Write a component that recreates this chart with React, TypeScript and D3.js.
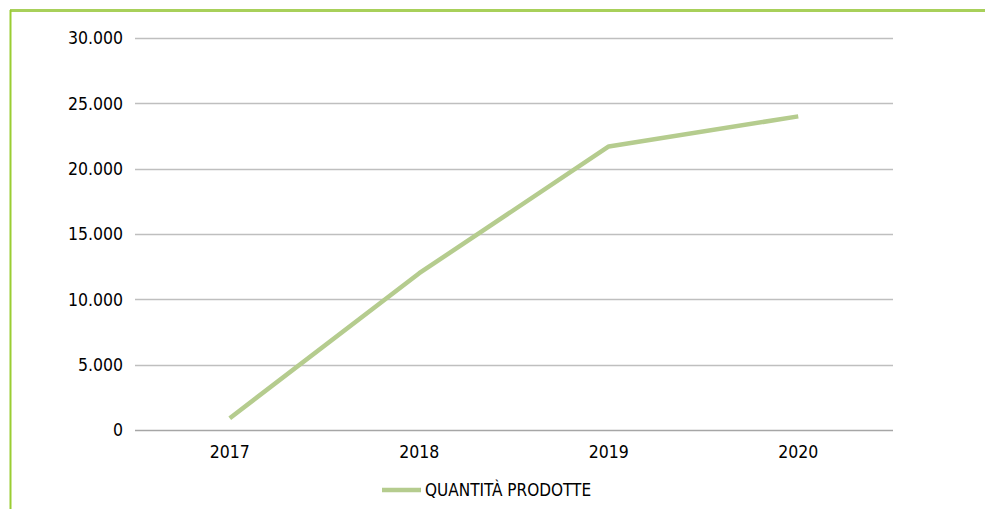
import React from "react";
import * as d3 from "d3";

const years = ["2017", "2018", "2019", "2020"];
const quantita = [900, 12000, 21700, 24000];
const yTicks = [0, 5000, 10000, 15000, 20000, 25000, 30000];
const seriesName = "QUANTITÀ PRODOTTE";

const W = 985;
const H = 509;
const FONT = "'DejaVu Sans Condensed', 'DejaVu Sans', sans-serif";

export default function App() {
  const x = d3.scaleBand<string>().domain(years).range([135, 893]);
  const y = d3.scaleLinear().domain([0, 30000]).range([430, 38]);
  const fmt = (v: number) => (v === 0 ? "0" : d3.format(",")(v).replace(/,/g, "."));
  const line = d3
    .line<number>()
    .x((_, i) => (x(years[i]) as number) + x.bandwidth() / 2)
    .y((d) => y(d));

  return (
    <svg
      width={W}
      height={H}
      style={{ position: "absolute", left: 0, top: 0, background: "#fff" }}
      fontFamily={FONT}
    >
      <rect x={0} y={0} width={W} height={H} fill="#fff" />
      {/* frame */}
      <line x1={10} x2={W} y1={10.5} y2={10.5} stroke="#a8d05a" strokeWidth={3} />
      <line x1={10.5} x2={10.5} y1={10} y2={H} stroke="#9acd32" strokeWidth={2} />

      {/* gridlines */}
      {yTicks.map((t) => (
        <g key={t}>
          <line
            x1={135}
            x2={893}
            y1={Math.round(y(t)) + 0.5}
            y2={Math.round(y(t)) + 0.5}
            stroke={t === 0 ? "#a6a6a6" : "#bfbfbf"}
            strokeWidth={1.5}
          />
          <text
            x={123}
            y={y(t)}
            dy="0.36em"
            fontSize={17.5}
            textAnchor="end"
            fill="#000"
          >
            {fmt(t)}
          </text>
        </g>
      ))}

      {/* x labels */}
      {years.map((yr) => (
        <text
          key={yr}
          x={(x(yr) as number) + x.bandwidth() / 2}
          y={458}
          fontSize={17.5}
          textAnchor="middle"
          fill="#000"
        >
          {yr}
        </text>
      ))}

      {/* series */}
      <path
        d={line(quantita) || ""}
        fill="none"
        stroke="#b5cc8e"
        strokeWidth={4.5}
        strokeLinejoin="round"
      />

      {/* legend */}
      <line x1={382} x2={421} y1={490} y2={490} stroke="#b5cc8e" strokeWidth={4.5} />
      <text x={425} y={496} fontSize={17} fill="#000">
        {seriesName}
      </text>
    </svg>
  );
}
